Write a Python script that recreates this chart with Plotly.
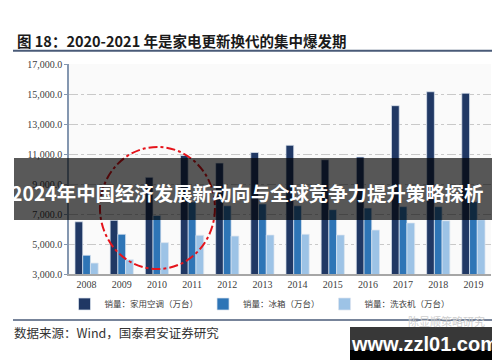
import plotly.graph_objects as go

# ---------------- data ----------------
years = ["2008", "2009", "2010", "2011", "2012", "2013", "2014", "2015", "2016", "2017", "2018", "2019"]
ac_sales = [6480, 6580, 9450, 10900, 10400, 11100, 11580, 10620, 10800, 14220, 15150, 15050]
fridge_sales = [4250, 5650, 6900, 7800, 7550, 7670, 7550, 7290, 7400, 7490, 7490, 7820]
washer_sales = [3730, 3950, 5090, 5580, 5530, 5600, 5650, 5600, 5930, 6400, 6550, 6620]
series_names = ["销量：家用空调（万台）", "销量：冰箱（万台）", "销量：洗衣机（万台）"]
y_ticks = [3000, 5000, 7000, 9000, 11000, 13000, 15000, 17000]

title_text = "图 18：2020-2021 年是家电更新换代的集中爆发期"
source_text = "数据来源：Wind，国泰君安证券研究"
banner_text = "2024年中国经济发展新动向与全球竞争力提升策略探析"
watermark_text = "www.zzl01.com"
faint_text = "陈显顺策略研究"

# ---------------- layout geometry (pixels) ----------------
W, H = 500, 362
PL, PR, PT, PB = 61, 483, 56, 266


def px(x):
    return (x - PL) / (PR - PL)


def py(y):
    return (PB - y) / (PB - PT)


colors = ["#203864", "#2e75b6", "#9dc3e6"]
serif = "Liberation Serif, Times New Roman, serif"
cjk = "Noto Sans CJK SC, sans-serif"

fig = go.Figure()
for name, vals, col in zip(series_names, [ac_sales, fridge_sales, washer_sales], colors):
    fig.add_trace(go.Bar(
        x=years, y=vals, name=name,
        marker=dict(color=col, line=dict(color="rgba(220,228,240,0.9)", width=0.8)),
    ))

shapes = []
# red dash-dot ellipse around 2008-2011
shapes.append(dict(type="circle", xref="x", yref="y", x0=0.38, x1=3.65, y0=3330, y1=11470,
                   line=dict(color="#e5141b", width=2, dash="dashdot"), layer="above"))
# title underline
shapes.append(dict(type="line", xref="paper", yref="paper", x0=px(5), x1=px(496), y0=py(42.7), y1=py(42.7),
                   line=dict(color="#4a5b78", width=2)))
# bottom rule
shapes.append(dict(type="line", xref="paper", yref="paper", x0=px(5), x1=px(496), y0=py(312), y1=py(312),
                   line=dict(color="#4a5b78", width=1.5)))
# overlay banner
shapes.append(dict(type="rect", xref="paper", yref="paper", x0=px(6), x1=px(491), y0=py(212), y1=py(150),
                   fillcolor="rgba(0,0,0,0.65)", line=dict(width=0), layer="above"))
# watermark box
shapes.append(dict(type="rect", xref="paper", yref="paper", x0=px(342), x1=px(491), y0=py(352), y1=py(319),
                   fillcolor="#383838", line=dict(width=0), layer="above"))
shapes.append(dict(type="rect", xref="paper", yref="paper", x0=px(342), x1=px(491), y0=py(352), y1=py(342),
                   fillcolor="#000000", line=dict(width=0), layer="above"))

annotations = [
    dict(text=title_text, xref="paper", yref="paper", x=px(7), y=py(33), xanchor="left", yanchor="middle",
         showarrow=False, font=dict(family=cjk, size=14.5, color="#1a1a1a", weight="bold")),
    dict(text=source_text, xref="paper", yref="paper", x=px(4), y=py(324), xanchor="left", yanchor="middle",
         showarrow=False, font=dict(family=cjk, size=12.5, color="#333333")),
    dict(text=faint_text, xref="paper", yref="paper", x=px(398), y=py(313), xanchor="left", yanchor="middle",
         showarrow=False, font=dict(family=cjk, size=11, color="#cfcfcf")),
    dict(text=banner_text, xref="paper", yref="paper", x=px(1), y=py(184), xanchor="left", yanchor="middle",
         showarrow=False, font=dict(family=cjk, size=19.4, color="#ffffff", weight="bold")),
    dict(text=watermark_text, xref="paper", yref="paper", x=px(416), y=py(336), xanchor="center", yanchor="middle",
         showarrow=False, font=dict(family="Liberation Sans, Arial, sans-serif", size=20, color="#ffffff", weight="bold")),
]

fig.update_layout(
    width=W, height=H,
    margin=dict(l=PL, r=W - PR, t=PT, b=H - PB),
    paper_bgcolor="#ffffff",
    plot_bgcolor="#fafafa",
    barmode="group",
    bargap=0.34,
    bargroupgap=0,
    showlegend=True,
    legend=dict(orientation="h", x=px(252), y=py(296), xanchor="center", yanchor="middle",
                font=dict(family=cjk, size=8.5, color="#404040"), bgcolor="rgba(0,0,0,0)",
                itemwidth=30, tracegroupgap=0),
    shapes=shapes,
    annotations=annotations,
    xaxis=dict(type="category", showline=True, linecolor="#a6a6a6", linewidth=2, showgrid=False,
               tickfont=dict(family=serif, size=10, color="#404040"), ticks=""),
    yaxis=dict(range=[3000, 17000], tickvals=y_ticks, tickformat=",.1f", showline=True,
               linecolor="#8497b0", linewidth=1.5, ticks="outside", ticklen=3, tickcolor="#8497b0",
               showgrid=True, gridcolor="#c9c9c9", gridwidth=1, griddash="dashdot", zeroline=False,
               tickfont=dict(family=serif, size=10, color="#404040")),
)

fig.write_html("out.html")
